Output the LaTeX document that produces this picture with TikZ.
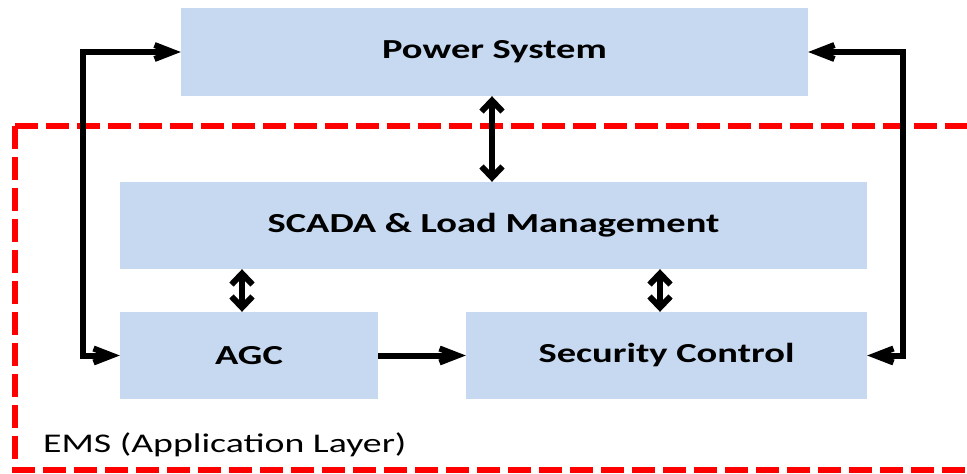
\documentclass[tikz,border=0pt]{standalone}
\usepackage{fontspec}
\setmainfont{Carlito}[FakeStretch=1.4]
\usetikzlibrary{arrows.meta}
\definecolor{boxblue}{RGB}{198,217,241}
\tikzset{
  blk/.style={rectangle, fill=boxblue, draw=none, inner sep=0pt,
    font=\fontsize{27.5}{32}\selectfont\bfseries},
  conn/.style={line width=6pt, black},
  hboth/.style={conn, {Straight Barb[length=18pt,width=14pt]}-{Straight Barb[length=18pt,width=14pt]}},
  hone/.style={conn, -{Straight Barb[length=18pt,width=14pt]}},
  vboth/.style={conn, {Straight Barb[length=11pt,width=21pt]}-{Straight Barb[length=11pt,width=21pt]}},
  emsline/.style={red, line width=5.5pt, dash pattern=on 23pt off 8pt}
}
\begin{document}
\begin{tikzpicture}[x=1pt,y=-1pt]
\useasboundingbox (0,0) rectangle (967,474);
% dashed EMS frame
\draw[emsline] (15,126) -- (995,126);
\draw[emsline] (15,126) -- (15,470) -- (995,470);
% blocks
\node[blk, minimum width=627pt, minimum height=88pt] (ps) at (494.5,52) {Power System};
\node[blk, minimum width=747pt, minimum height=87pt] (scada) at (493.5,225.5) {SCADA \& Load Management};
\node[blk, minimum width=258pt, minimum height=87pt] (agc) at (249,355.5) {AGC};
\node[blk, minimum width=401pt, minimum height=87pt] (sec) at (666.5,355.5) {Security Control};
\node[anchor=base west, inner sep=0pt, font=\fontsize{27}{30}\selectfont] (ems) at (43,452) {EMS (Application Layer)};
% connectors
\draw[hboth] (agc.west) -- ++(-37,0) |- (ps.west);
\draw[hboth] (sec.east) -- ++(36,0) |- (ps.east);
\draw[vboth] ([xshift=-2.5pt]ps.south) -- ([xshift=-2.5pt]ps.south |- scada.north);
\draw[vboth] ([xshift=-7pt]agc.north) -- ([xshift=-7pt]agc.north |- scada.south);
\draw[vboth] ([xshift=-6.5pt]sec.north) -- ([xshift=-6.5pt]sec.north |- scada.south);
\draw[hone] (agc.east) -- (sec.west);
\end{tikzpicture}
\end{document}
